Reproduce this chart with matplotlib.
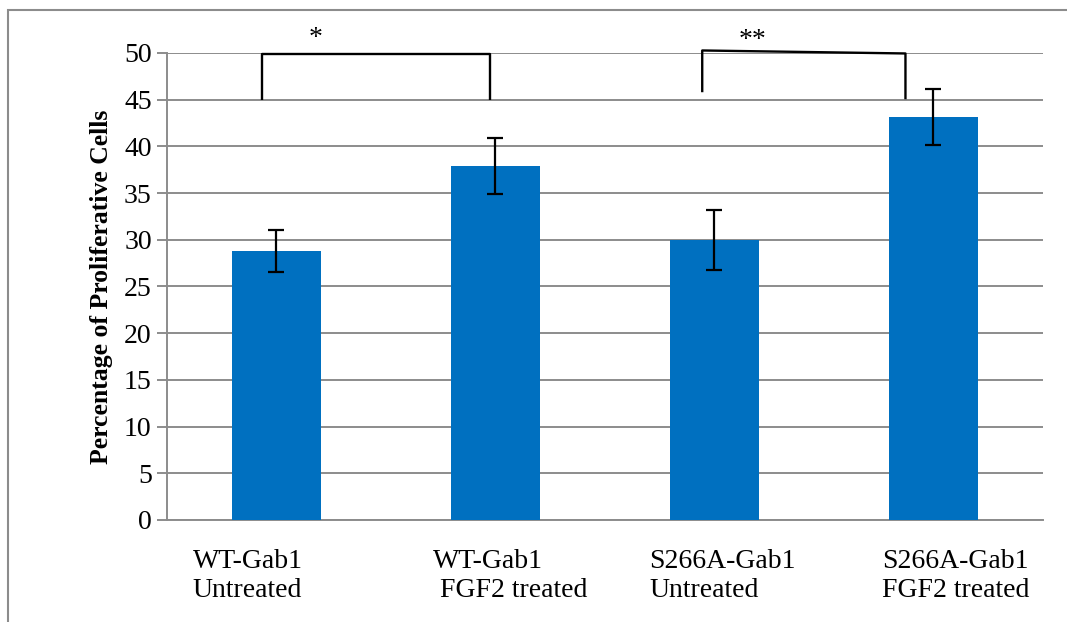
import matplotlib
matplotlib.use("Agg")
import matplotlib.pyplot as plt
from matplotlib.patches import Rectangle
import matplotlib.transforms as mtransforms

categories = ["WT-Gab1\nUntreated", "WT-Gab1\n FGF2 treated", "S266A-Gab1\nUntreated", "S266A-Gab1\nFGF2 treated"]
values = [28.8, 37.9, 30.0, 43.1]
errors = [2.3, 3.0, 3.2, 3.0]
yticks = [0, 5, 10, 15, 20, 25, 30, 35, 40, 45, 50]
ylabel = "Percentage of Proliferative Cells"
sig1 = "*"
sig2 = "**"

plt.rcParams['font.family'] = ['Liberation Serif', 'DejaVu Serif']

fig = plt.figure(figsize=(10.67, 6.22), dpi=100)
ax = fig.add_axes([0.1565, 0.164, 0.821, 0.7508])

grid_c = '#8c8c8c'
xs = list(range(len(values)))
ax.bar(xs, values, width=0.405, color='#0070C0', zorder=3)
ax.errorbar(xs, values, yerr=errors, fmt='none', ecolor='black', elinewidth=1.6,
            capsize=6, capthick=1.6, zorder=4)

ax.set_xlim(-0.5, 3.5)
ax.set_ylim(0, 50)
ax.set_yticks(yticks)
ax.set_yticklabels([str(t) for t in yticks], fontsize=20)
ax.yaxis.grid(True, color=grid_c, linewidth=1.4, zorder=0)
ax.set_axisbelow(True)
ax.tick_params(axis='y', length=7, width=1.4, color=grid_c, pad=4)
ax.tick_params(axis='x', length=0)
ax.set_xticks(xs)
ax.set_xticklabels([])
for s in ['top', 'right']:
    ax.spines[s].set_visible(False)
for s in ['left', 'bottom']:
    ax.spines[s].set_color(grid_c)
    ax.spines[s].set_linewidth(1.4)
ax.spines['left'].set_zorder(1)

ax.set_ylabel(ylabel, fontsize=18.5, fontweight='bold', labelpad=8)

# category labels (left aligned text boxes under each bar)
label_offsets = [-0.383, -0.285, -0.297, -0.233]
trans = mtransforms.blended_transform_factory(ax.transData, fig.transFigure)
for x, lab, off in zip(xs, categories, label_offsets):
    ax.text(x + off, 1 - 597 / 622, lab, transform=trans, ha='left', va='baseline',
            fontsize=20, linespacing=1.2, multialignment='left')

# significance brackets
lk = dict(color='black', linewidth=1.7, zorder=5, clip_on=False, solid_capstyle='butt')
ax.plot([-0.064, -0.064, 0.977, 0.977], [45.0, 49.9, 49.9, 45.0], **lk)
ax.plot([1.944, 1.944, 2.872, 2.872], [45.8, 50.27, 49.95, 45.05], **lk)
ax.text(0.178, 50.9, sig1, ha='center', va='baseline', fontsize=20, clip_on=False)
ax.text(2.174, 50.6, sig2, ha='center', va='baseline', fontsize=20, clip_on=False)

# outer frame
fig.patches.append(Rectangle((8 / 1067, -0.1), 1.2, 1 - 10 / 622 + 0.1, transform=fig.transFigure,
                             fill=False, edgecolor=grid_c, linewidth=1.5))

fig.savefig("out.png", dpi=100)
